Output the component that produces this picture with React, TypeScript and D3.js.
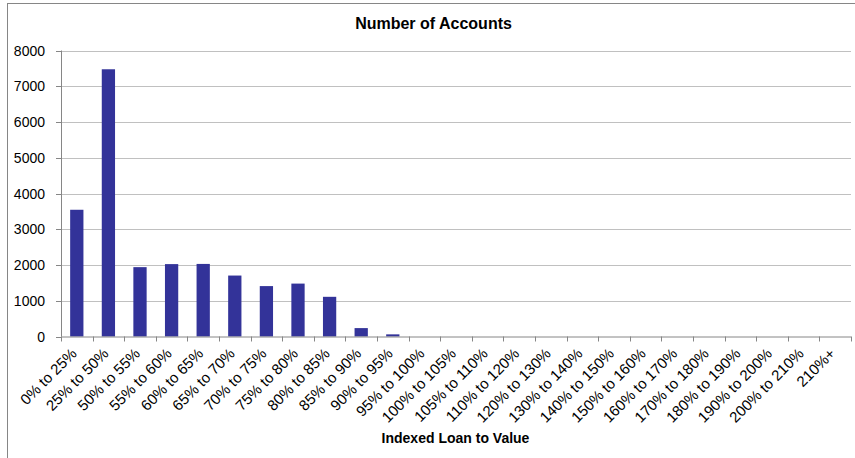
import React from "react";
import * as d3 from "d3";

const categories = [
  "0% to 25%", "25% to 50%", "50% to 55%", "55% to 60%", "60% to 65%",
  "65% to 70%", "70% to 75%", "75% to 80%", "80% to 85%", "85% to 90%",
  "90% to 95%", "95% to 100%", "100% to 105%", "105% to 110%", "110% to 120%",
  "120% to 130%", "130% to 140%", "140% to 150%", "150% to 160%", "160% to 170%",
  "170% to 180%", "180% to 190%", "190% to 200%", "200% to 210%", "210%+",
];
const accounts = [
  3545, 7475, 1940, 2025, 2030, 1705, 1410, 1480, 1110, 235,
  60, 0, 0, 0, 0, 0, 0, 0, 0, 0, 0, 0, 0, 0, 0,
];
const yTicks = [0, 1000, 2000, 3000, 4000, 5000, 6000, 7000, 8000];
const title = "Number of Accounts";
const xTitle = "Indexed Loan to Value";

const W = 855, H = 458;
const plot = { left: 61, right: 851, top: 50.5, bottom: 336.5 };
const axisColor = "#868686";
const gridColor = "#c0c0c0";
const barColor = "#333399";
const font = "'Liberation Sans', Arial, sans-serif";

export default function App() {
  const x = d3.scaleBand<string>().domain(categories).range([plot.left, plot.right]).paddingInner(0.58).paddingOuter(0.29);
  const y = d3.scaleLinear().domain([0, 8000]).range([plot.bottom, plot.top]);
  const step = x.step();
  const boundaries = d3.range(categories.length + 1).map((i) => plot.left + i * step);

  return (
    <svg width={W} height={H} style={{ position: "absolute", left: 0, top: 0 }} fontFamily={font}>
      <rect x={0} y={0} width={W} height={H} fill="#fff" />
      <rect x={7.5} y={3.5} width={W + 20} height={H + 20} fill="none" stroke={axisColor} strokeWidth={1} />
      <text x={433.5} y={29} textAnchor="middle" fontSize={16} fontWeight="bold" fill="#000">{title}</text>
      {yTicks.map((t) => (
        <g key={t}>
          {t > 0 && (
            <line x1={plot.left} x2={plot.right} y1={Math.round(y(t)) + 0.5} y2={Math.round(y(t)) + 0.5} stroke={gridColor} strokeWidth={1} />
          )}
          <line x1={plot.left - 5} x2={plot.left} y1={Math.round(y(t)) + 0.5} y2={Math.round(y(t)) + 0.5} stroke={axisColor} />
          <text x={45} y={y(t)} dy="0.36em" textAnchor="end" fontSize={14} fill="#000">{t}</text>
        </g>
      ))}
      {categories.map((c, i) => (
        <rect key={c} x={x(c)} y={y(accounts[i])} width={x.bandwidth()} height={plot.bottom - y(accounts[i])} fill={barColor} />
      ))}
      <line x1={plot.left + 0.5} x2={plot.left + 0.5} y1={plot.top} y2={plot.bottom} stroke={axisColor} />
      <line x1={plot.left} x2={plot.right} y1={plot.bottom + 0.5} y2={plot.bottom + 0.5} stroke={axisColor} />
      {boundaries.map((b, i) => (
        <line key={i} x1={Math.round(b) + 0.5} x2={Math.round(b) + 0.5} y1={plot.bottom} y2={plot.bottom + 5} stroke={axisColor} />
      ))}
      {categories.map((c) => {
        const cx = (x(c) as number) + x.bandwidth() / 2 + 1;
        const cy = plot.bottom + 18;
        return (
          <text key={c} x={cx} y={cy} transform={`rotate(-45 ${cx} ${cy})`} textAnchor="end" fontSize={15} fill="#000">{c}</text>
        );
      })}
      <text x={455.5} y={443} textAnchor="middle" fontSize={14} fontWeight="bold" fill="#000">{xTitle}</text>
    </svg>
  );
}
